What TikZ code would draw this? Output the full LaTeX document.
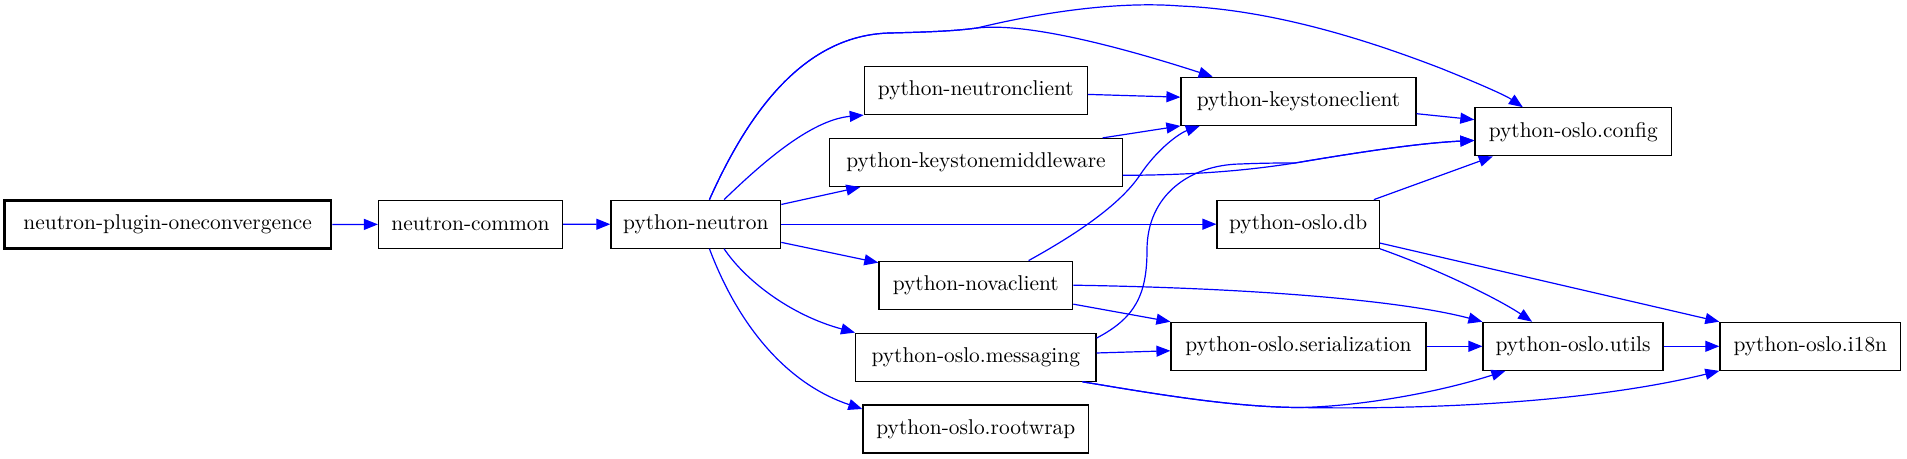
\documentclass[tikz,border=0pt]{standalone}
\usetikzlibrary{arrows.meta}

\begin{document}
\begin{tikzpicture}[x=0.5pt,y=-0.5pt,
  pkg/.style={draw,line width=0.6pt,minimum height=24pt,inner sep=0pt,font=\fontsize{10.7}{13}\selectfont},
  dep/.style={blue,line width=0.6pt,-{Triangle[length=7pt,width=5.5pt]}}]
\useasboundingbox (0,0) rectangle (1907,459);
\node[pkg,line width=1.3pt,minimum width=163.3pt] (plugin) at (167.7,224.6) {neutron-plugin-oneconvergence};
\node[pkg,minimum width=92pt] (common) at (470.5,224.3) {neutron-common};
\node[pkg,minimum width=84.9pt] (neutron) at (695.8,224.2) {python-neutron};
\node[pkg,minimum width=111.5pt] (nclient) at (975.8,90.5) {python-neutronclient};
\node[pkg,minimum width=146.3pt] (ksmw) at (976,162.5) {python-keystonemiddleware};
\node[pkg,minimum width=117.5pt] (ksclient) at (1298.5,101.3) {python-keystoneclient};
\node[pkg,minimum width=98.4pt] (config) at (1573.3,131.8) {python-oslo.config};
\node[pkg,minimum width=81.2pt] (db) at (1298.2,224.2) {python-oslo.db};
\node[pkg,minimum width=96.9pt] (nova) at (975.8,285.2) {python-novaclient};
\node[pkg,minimum width=120.2pt] (msg) at (975.8,357.2) {python-oslo.messaging};
\node[pkg,minimum width=112.9pt] (rootwrap) at (975.8,429) {python-oslo.rootwrap};
\node[pkg,minimum width=127.5pt] (serial) at (1298.5,346.3) {python-oslo.serialization};
\node[pkg,minimum width=90pt] (utils) at (1573,346.3) {python-oslo.utils};
\node[pkg,minimum width=90.4pt] (i18n) at (1810.3,346.3) {python-oslo.i18n};
\draw[dep] (plugin) -- (common);
\draw[dep] (common) -- (neutron);
\draw[dep] (neutron) -- (db);
\draw[dep] (neutron.41) .. controls (760,165) and (810,120) .. (nclient.south west);
\draw[dep] (neutron.13) -- (ksmw.192);
\draw[dep] (neutron.-12) -- (nova.167);
\draw[dep] (neutron.-41) .. controls (745,280) and (790,315) .. (msg.north west);
\draw[dep] (neutron.-61) .. controls (740,330) and (790,385) .. (rootwrap.170);
\draw[dep] (neutron.61) .. controls (745,120) and (800,35) .. (890,33) .. controls (930,32) and (955,31) .. (977,28)
  .. controls (1030,22) and (1130,50) .. (ksclient.164);
\draw[dep] (neutron.61) .. controls (745,120) and (800,35) .. (890,33) .. controls (930,32) and (955,31) .. (977,28)
  .. controls (1060,8) and (1130,2) .. (1180,6) .. controls (1280,10) and (1380,45) .. (1440,68)
  .. controls (1475,82) and (1505,95) .. (config.154);
\draw[dep] (nclient.-2) -- (ksclient.178);
\draw[dep] (ksmw.11) -- (ksclient.south west);
\draw[dep] (nova.25) .. controls (1075,235) and (1120,205) .. (1140,175) .. controls (1158,148) and (1180,133) .. (ksclient.194);
\draw[dep] (ksmw.-5) .. controls (1200,175) and (1250,170) .. (1295,163) .. controls (1360,152) and (1420,143) .. (config.185);
\draw[dep] (msg.9) .. controls (1135,318) and (1147,295) .. (1147,250) .. controls (1147,195) and (1190,165) .. (1240,164)
  .. controls (1265,163) and (1280,163) .. (1295,163) .. controls (1360,152) and (1420,143) .. (config.185);
\draw[dep] (ksclient.-6) -- (config.173);
\draw[dep] (db.18) -- (config.197);
\draw[dep] (db.south east) .. controls (1440,270) and (1500,300) .. (utils.149);
\draw[dep] (db.-13) -- (i18n.north west);
\draw[dep] (nova.east) .. controls (1250,288) and (1400,300) .. (utils.north west);
\draw[dep] (nova.-11) -- (serial.north west);
\draw[dep] (msg.2) -- (serial.182);
\draw[dep] (serial) -- (utils);
\draw[dep] (utils) -- (i18n);
\draw[dep] (msg.-13) .. controls (1150,393) and (1230,407) .. (1298,407.5) .. controls (1350,407) and (1430,395) .. (utils.200);
\draw[dep] (msg.-13) .. controls (1150,393) and (1230,407) .. (1298,407.5) .. controls (1450,410) and (1600,400) .. (i18n.south west);
\end{tikzpicture}
\end{document}
